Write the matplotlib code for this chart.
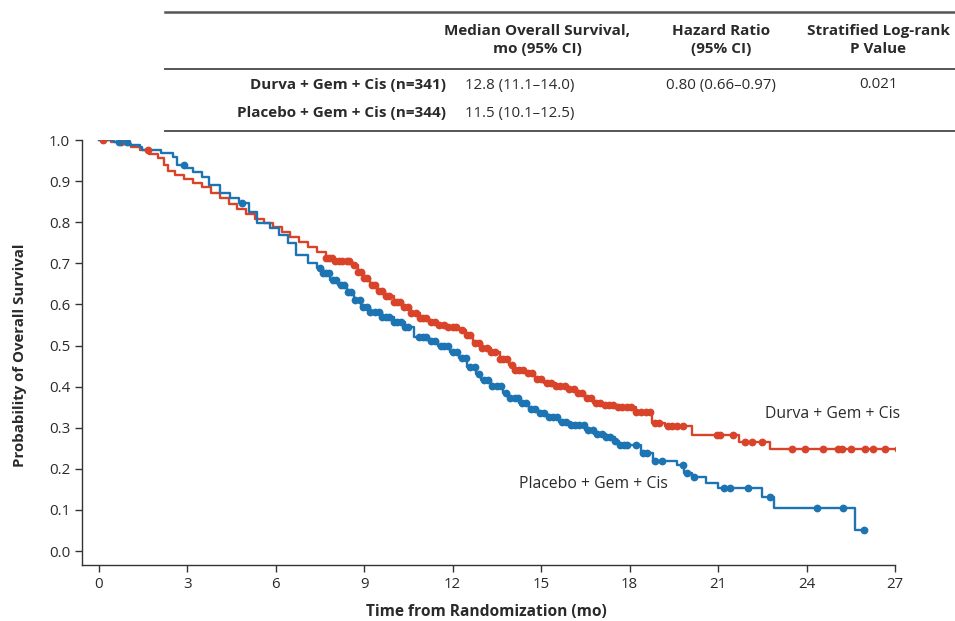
import numpy as np
import matplotlib
matplotlib.use("Agg")
import matplotlib.pyplot as plt
from matplotlib.lines import Line2D

# ---------------- data ----------------
durva_t = [0, 0.4, 0.8, 1.1, 1.4, 1.7, 2.0, 2.2, 2.35, 2.6, 2.9, 3.2, 3.5, 3.8, 4.1, 4.4,
           4.7, 5.0, 5.3, 5.6, 5.9, 6.2, 6.5, 6.8, 7.1, 7.4, 7.7, 7.95, 8.6, 8.8, 9.0,
           9.2, 9.45, 9.7, 10.0, 10.3, 10.6, 10.9, 11.2, 11.5, 11.8, 12.2, 12.45, 12.7,
           13.0, 13.3, 13.6, 13.9, 14.1, 14.5, 14.8, 15.1, 15.5, 15.9, 16.2, 16.5, 16.75,
           17.1, 17.6, 18.2, 18.75, 19.2, 20.1, 21.7, 22.76]
durva_s = [1.0, 0.995, 0.99, 0.982, 0.975, 0.965, 0.955, 0.94, 0.925, 0.915, 0.905, 0.895,
           0.885, 0.872, 0.86, 0.845, 0.833, 0.82, 0.808, 0.797, 0.788, 0.775, 0.763, 0.752,
           0.74, 0.727, 0.713, 0.706, 0.697, 0.68, 0.665, 0.648, 0.632, 0.62, 0.607, 0.593,
           0.58, 0.568, 0.558, 0.55, 0.545, 0.538, 0.525, 0.506, 0.495, 0.485, 0.468, 0.452,
           0.44, 0.432, 0.418, 0.41, 0.402, 0.395, 0.385, 0.372, 0.36, 0.355, 0.35, 0.338,
           0.312, 0.304, 0.282, 0.265, 0.248]
durva_end = 27.1
durva_cens = [0.15, 0.75, 1.66,
              7.7, 7.8, 7.9, 8.0, 8.15, 8.25, 8.4, 8.5, 8.65, 8.8, 8.9, 9.0, 9.1, 9.25, 9.35,
              9.5, 9.6, 9.75, 9.85, 10.0, 10.1, 10.2, 10.35, 10.5, 10.6, 10.75, 10.9, 11.0,
              11.1, 11.25, 11.4, 11.55, 11.7, 11.85, 12.0, 12.1, 12.3, 12.5, 12.6, 12.75,
              12.9, 13.0, 13.15, 13.3, 13.45, 13.6, 13.7, 13.85, 14.0, 14.1, 14.25, 14.4,
              14.55, 14.7, 14.85, 15.0, 15.2, 15.35, 15.5, 15.65, 15.8, 15.95, 16.1, 16.25,
              16.4, 16.55, 16.7, 16.85, 17.0, 17.15, 17.3, 17.45, 17.6, 17.75, 17.9, 18.05,
              18.2, 18.4, 18.55, 18.7, 18.85, 19.0, 19.3, 19.45, 19.6, 19.8,
              20.96, 21.07, 21.5, 21.9, 22.15, 22.5, 23.5, 23.95, 24.56, 25.07, 25.2, 25.5,
              25.98, 26.25, 26.66, 27.1]

placebo_t = [0, 0.5, 1.0, 1.4, 1.45, 2.1, 2.5, 2.65, 2.95, 3.2, 3.5, 3.75, 4.1, 4.45, 4.75,
             5.1, 5.35, 5.8, 6.1, 6.4, 6.7, 7.1, 7.4, 7.6, 7.85, 8.1, 8.4, 8.65, 8.9, 9.2,
             9.6, 10.0, 10.4, 10.7, 11.2, 11.5, 11.9, 12.2, 12.5, 12.8, 12.95, 13.3, 13.7,
             13.9, 14.25, 14.6, 14.9, 15.2, 15.6, 16.0, 16.5, 16.8, 17.2, 17.5, 17.65, 18.4,
             18.8, 19.6, 19.85, 20.1, 20.6, 21.0, 22.5, 22.9, 25.65]
placebo_s = [1.0, 0.995, 0.988, 0.983, 0.976, 0.968, 0.959, 0.939, 0.932, 0.922, 0.91, 0.89,
             0.872, 0.86, 0.847, 0.825, 0.798, 0.786, 0.769, 0.75, 0.72, 0.70, 0.688, 0.676,
             0.66, 0.647, 0.63, 0.611, 0.594, 0.582, 0.57, 0.557, 0.545, 0.521, 0.512, 0.499,
             0.485, 0.47, 0.448, 0.43, 0.416, 0.402, 0.385, 0.372, 0.36, 0.345, 0.335, 0.326,
             0.315, 0.306, 0.295, 0.285, 0.277, 0.268, 0.258, 0.238, 0.22, 0.21, 0.19, 0.18,
             0.165, 0.153, 0.131, 0.105, 0.052]
placebo_end = 25.95
placebo_cens = [0.7, 0.95, 2.9, 4.85,
                7.5, 7.6, 7.7, 7.8, 7.95, 8.05, 8.2, 8.3, 8.45, 8.55, 8.7, 8.85, 8.95, 9.1,
                9.2, 9.35, 9.5, 9.6, 9.75, 9.85, 10.0, 10.1, 10.25, 10.4, 10.5, 10.85, 11.0,
                11.1, 11.25, 11.4, 11.6, 11.7, 11.85, 12.0, 12.15, 12.3, 12.45, 12.6, 12.75,
                12.9, 13.05, 13.2, 13.35, 13.5, 13.65, 13.8, 13.95, 14.1, 14.2, 14.35, 14.5,
                14.65, 14.8, 14.95, 15.1, 15.25, 15.4, 15.55, 15.7, 15.85, 16.0, 16.15, 16.3,
                16.45, 16.6, 16.75, 16.9, 17.05, 17.2, 17.35, 17.5, 17.67, 17.8, 17.9, 18.2,
                18.45, 18.6, 18.86, 19.1, 19.8, 19.95, 20.2,
                21.2, 21.4, 22.0, 22.75, 24.35, 25.24, 25.95]

x_ticks = [0, 3, 6, 9, 12, 15, 18, 21, 24, 27]
y_ticks = [0.0, 0.1, 0.2, 0.3, 0.4, 0.5, 0.6, 0.7, 0.8, 0.9, 1.0]

table_header = ["Median Overall Survival,\nmo (95% CI)", "Hazard Ratio\n(95% CI)",
                "Stratified Log-rank\nP Value"]
table_rows = ["Durva + Gem + Cis (n=341)", "Placebo + Gem + Cis (n=344)"]
table_median = ["12.8 (11.1\u201314.0)", "11.5 (10.1\u201312.5)"]
table_hr = "0.80 (0.66\u20130.97)"
table_p = "0.021"

# ---------------- style ----------------
RED = "#D8432A"
BLUE = "#1C74B3"
TXT = "#2a2a2a"
W, H = 955, 621
FONT = ["Open Sans", "DejaVu Sans"]
plt.rcParams['font.family'] = FONT

fig = plt.figure(figsize=(W / 100, H / 100), dpi=100)


def fx(px):
    return px / W


def fy(py):
    return 1 - py / H


ax = fig.add_axes([fx(82), fy(565), fx(895) - fx(82), fy(140) - fy(565)])
ax.set_xlim(-0.57, 27)
ax.set_ylim(-0.034, 1.0)
for sp in ["top", "right"]:
    ax.spines[sp].set_visible(False)
for sp in ["left", "bottom"]:
    ax.spines[sp].set_color("#333333")
    ax.spines[sp].set_linewidth(1.0)
ax.set_xticks(x_ticks)
ax.set_yticks(y_ticks)
ax.set_yticklabels([f"{v:.1f}" for v in y_ticks])
ax.tick_params(axis="both", direction="out", length=5, width=1.0, color="#333333",
               labelsize=10.8, labelcolor=TXT)


def draw_km(t, s, end, cens, color):
    tt = list(t) + [end]
    ss = list(s) + [s[-1]]
    ax.step(tt, ss, where="post", color=color, lw=1.7, zorder=3)
    idx = np.searchsorted(np.array(t), np.array(cens), side="right") - 1
    cy = np.array(s)[idx]
    ax.plot(cens, cy, "o", color=color, ms=5.6, mew=0, zorder=4)


draw_km(durva_t, durva_s, durva_end, durva_cens, RED)
draw_km(placebo_t, placebo_s, placebo_end, placebo_cens, BLUE)

ax.text(22.6, 0.333, "Durva + Gem + Cis", fontsize=11.3, color=TXT, va="center", ha="left")
ax.text(14.25, 0.163, "Placebo + Gem + Cis", fontsize=11.3, color=TXT, va="center", ha="left")

fig.text(fx(20), fy(355), "Probability of Overall Survival", rotation=90, fontsize=10.8,
         fontweight="bold", ha="center", va="center", color=TXT)
fig.text(fx(486), fy(612), "Time from Randomization (mo)", fontsize=11.2,
         fontweight="bold", ha="center", va="center", color=TXT)

# ---------------- table ----------------
for py, lw in [(12, 1.8), (69, 1.4), (131, 1.4)]:
    fig.add_artist(Line2D([fx(165), fx(955)], [fy(py), fy(py)], color="#555555", lw=lw))

hdr_x = [537, 721, 878]
for x, txt in zip(hdr_x, table_header):
    fig.text(fx(x), fy(40), txt, fontsize=11, fontweight="bold", ha="center", va="center",
             color=TXT, linespacing=1.35)

row_y = [85, 113]
for y, lab, med in zip(row_y, table_rows, table_median):
    fig.text(fx(446), fy(y), lab, fontsize=11, fontweight="bold", ha="right", va="center",
             color=TXT)
    fig.text(fx(465), fy(y), med, fontsize=10.8, ha="left", va="center", color=TXT)
fig.text(fx(721), fy(85), table_hr, fontsize=10.8, ha="center", va="center", color=TXT)
fig.text(fx(878), fy(85), table_p, fontsize=10.8, ha="center", va="center", color=TXT)

fig.savefig("out.png", dpi=100)
